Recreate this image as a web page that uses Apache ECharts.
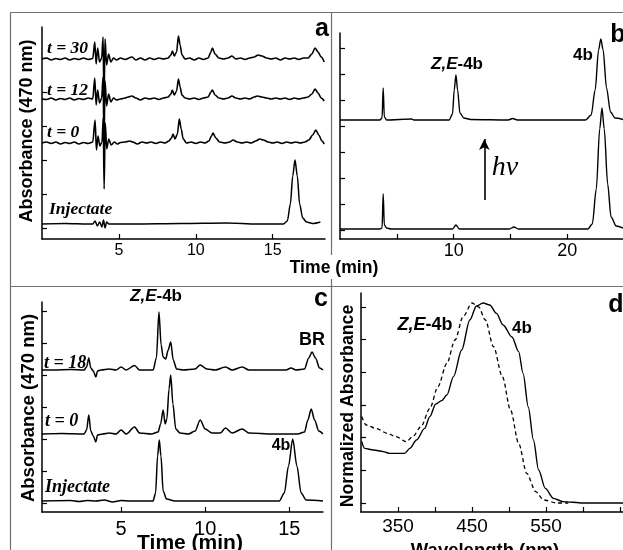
<!DOCTYPE html>
<html>
<head>
<meta charset="utf-8">
<script src="https://cdn.jsdelivr.net/npm/echarts@6/dist/echarts.min.js"></script>
<style>
html, body { margin: 0; padding: 0; background: #fff; }
#chart { width: 623px; height: 550px; }
</style>
</head>
<body>
<div id="chart"></div>
<script>
// ---- panel a : HPLC traces (time in min, absorbance in arbitrary units) ----
var traceA30 = [[0,0],[0.3,1],[0.6,-1],[0.9,0.5],[1.2,-0.5],[1.5,1],[1.8,-1],[2.1,0.5],[2.4,-0.5],[2.7,1],[3.0,-0.5],[3.3,0.5],[3.43,17],[3.52,-5],[3.62,11],[3.74,-3],[3.88,1],[3.97,22],[4.03,-42],[4.1,20],[4.2,-6],[4.33,5],[4.48,-3],[4.65,1],[4.85,-1],[5.1,1],[5.4,-0.5],[5.85,2],[6.1,-1],[6.4,1],[6.7,-1],[7.0,1],[7.3,-0.5],[7.6,1],[7.9,0],[8.2,1],[8.38,4],[8.48,8],[8.6,3],[8.75,7],[8.87,23],[8.98,14],[9.1,4],[9.3,0],[9.6,1],[9.9,-1],[10.2,1],[10.5,-0.5],[10.8,1],[10.98,7],[11.08,11],[11.25,5],[11.5,1],[11.8,0],[12.1,1],[12.35,3],[12.6,0],[12.9,1],[13.2,-0.5],[13.5,1],[13.8,2],[14.05,4],[14.3,3],[14.6,1],[14.9,0],[15.2,1],[15.5,-1],[15.8,1],[16.1,0],[16.4,1],[16.7,-0.5],[17.0,1],[17.3,1],[17.55,5],[17.75,11],[17.95,7],[18.15,2],[18.35,-3]];
var traceA12 = [[0,0],[0.3,-0.5],[0.6,1],[0.9,-1],[1.2,0.5],[1.5,-0.5],[1.8,1],[2.1,-1],[2.4,0.5],[2.7,-0.5],[3.0,1],[3.3,0],[3.43,21],[3.52,-6],[3.62,9],[3.74,-4],[3.88,1],[3.97,22],[4.03,-44],[4.1,18],[4.2,-7],[4.33,5],[4.48,-3],[4.65,1],[4.85,-1],[5.1,0],[5.4,1],[5.6,2],[5.85,3],[6.1,1],[6.4,-1],[6.7,1],[7.0,0],[7.3,1],[7.6,-0.5],[7.9,1],[8.2,2],[8.38,5],[8.47,9],[8.6,4],[8.75,8],[8.87,20],[8.98,12],[9.1,4],[9.3,1],[9.6,0],[9.9,1],[10.2,-0.5],[10.5,1],[10.8,2],[10.98,7],[11.08,9],[11.25,4],[11.5,1],[11.8,0],[12.1,1],[12.35,3],[12.6,1],[12.9,0],[13.2,1],[13.5,0],[13.8,2],[14.0,3],[14.3,2],[14.6,1],[14.9,0],[15.2,1],[15.5,0],[15.8,1],[16.1,-0.5],[16.4,1],[16.7,0],[17.0,1],[17.3,2],[17.55,5],[17.75,10],[17.95,6],[18.15,1],[18.35,-2]];
var traceA0 = [[0,0],[0.3,1],[0.6,-0.5],[0.9,1],[1.2,-1],[1.5,0.5],[1.8,-0.5],[2.1,1],[2.4,-1],[2.7,0.5],[3.0,-0.5],[3.3,1],[3.45,23],[3.54,-7],[3.64,7],[3.76,-3],[3.9,1],[3.98,25],[4.04,-46],[4.11,20],[4.21,-6],[4.34,4],[4.5,-2],[4.7,1],[4.9,-1],[5.1,0.5],[5.4,1],[5.7,2],[5.9,1],[6.2,-1],[6.5,1],[6.8,0],[7.1,1],[7.4,-0.5],[7.7,1],[8.0,0],[8.25,2],[8.42,5],[8.52,9],[8.65,4],[8.8,9],[8.93,24],[9.05,14],[9.18,4],[9.4,0],[9.7,1],[10.0,-0.5],[10.3,1],[10.6,0],[10.85,2],[11.02,7],[11.12,10],[11.3,5],[11.55,1],[11.9,0],[12.2,1],[12.42,3],[12.7,1],[13.0,0],[13.3,1],[13.6,0],[13.9,2],[14.15,4],[14.4,3],[14.7,1],[15.0,0],[15.3,1],[15.6,-0.5],[15.9,1],[16.2,0],[16.5,1],[16.8,0],[17.1,1],[17.35,3],[17.6,8],[17.8,13],[18.0,8],[18.2,2],[18.35,-1]];
var traceAInj = [[0,0],[1.5,0.5],[3.0,0],[3.3,0],[3.45,3],[3.6,-2],[3.75,2],[3.9,-3],[4.0,4],[4.1,-4],[4.2,2],[4.35,0],[6,0],[9,0.5],[12,1],[14,0],[15.7,0],[15.95,3],[16.15,20],[16.3,48],[16.45,64],[16.6,48],[16.75,20],[16.95,6],[17.2,2],[17.6,0.5],[18.1,2]];
var offsetsA = [180, 140, 96, 15];
var xTicksA = [5, 10, 15];
var yTicksA = [11, 45, 79, 113, 147, 181];

// ---- panel b : before / after irradiation ----
var traceBTop = [[0,0],[3.5,0],[3.7,2],[3.8,32],[3.9,3],[4.1,0],[6.3,1],[6.5,0],[9.6,0],[9.9,6],[10.05,30],[10.2,45],[10.35,30],[10.55,7],[10.9,2],[11.5,0.5],[14.8,0],[15.2,1.5],[15.6,0],[21.6,0],[22.1,5],[22.45,30],[22.75,70],[22.95,81],[23.15,70],[23.45,32],[23.8,8],[24.2,2],[24.9,0.5]];
var traceBBottom = [[0,0],[3.5,0],[3.7,1],[3.8,35],[3.9,4],[4.1,1],[4.5,0],[9.9,0],[10.2,4],[10.5,0],[14.9,0],[15.3,2],[15.7,0],[21.8,0],[22.2,5],[22.55,40],[22.85,100],[23.05,121],[23.25,100],[23.55,45],[23.85,12],[24.3,3],[24.9,1]];
var offsetsB = [119, 10];
var xTicksB = [5, 10, 15, 20];
var xLabelsB = [10, 20];
var yTicksB = [9, 35, 61, 87, 113, 139, 165, 191];

// ---- panel c ----
var traceC18 = [[0.3,0],[1,0],[2,0.5],[2.8,0],[2.95,3],[3.08,12],[3.2,2],[3.35,-1],[3.5,-7],[3.6,-1],[3.8,0],[4.3,1],[4.7,0],[5.0,3],[5.3,0],[5.8,4.5],[6.1,0],[6.9,0],[7.1,12],[7.25,58],[7.38,25],[7.5,13],[7.65,11],[7.8,20],[7.95,28],[8.1,10],[8.3,1],[8.7,0],[9.4,1],[9.7,5],[10.1,1],[10.6,0],[11.2,3],[11.6,0],[12.2,3],[12.6,0],[14.8,0],[15.1,2],[15.4,0],[15.9,1],[16.15,12],[16.35,18],[16.55,12],[16.8,2],[17,0]];
var traceC0 = [[0.3,0],[1.5,0.5],[2.8,0],[2.95,4],[3.08,19],[3.2,3],[3.35,-2],[3.5,-8],[3.6,-1],[3.9,0],[4.3,1],[4.7,0],[5.0,4],[5.3,0],[5.8,7],[6.1,1],[6.8,0],[7.2,2],[7.35,10],[7.5,24],[7.62,10],[7.72,15],[7.85,45],[7.95,59],[8.08,30],[8.25,5],[8.5,1],[9.0,0],[9.4,3],[9.7,14],[10.0,5],[10.4,1],[10.9,1],[11.2,6],[11.6,1],[12.2,5],[12.6,1],[14,0],[15.5,0],[15.9,2],[16.1,14],[16.3,25],[16.5,14],[16.75,3],[17,0]];
var traceCInj = [[0.3,0],[2,0.5],[2.5,-0.5],[3,0.5],[3.5,0],[4,1],[4.5,-1],[5,0.5],[5.5,0],[6.9,0],[7.05,8],[7.17,45],[7.27,61],[7.37,45],[7.5,10],[7.7,2],[8.2,0],[14.4,0],[14.7,8],[14.95,35],[15.2,62],[15.45,35],[15.7,8],[16,1],[17,0]];
var offsetsC = [142, 78, 11];
var xTicksC = [5, 10, 15];
var yTicksC = [9, 41, 73, 105, 137, 169, 201];

// ---- panel d : normalized absorption spectra ----
var spec4b = [[301,0.307],[305,0.273],[317,0.265],[330,0.257],[339,0.248],[359,0.248],[366,0.273],[375,0.315],[386,0.373],[393,0.432],[401,0.495],[409,0.512],[416,0.54],[425,0.632],[436,0.765],[447,0.915],[456,0.985],[465,1.0],[474,0.99],[483,0.948],[492,0.89],[504,0.83],[513,0.757],[519,0.648],[526,0.48],[533,0.315],[540,0.165],[549,0.073],[560,0.023],[573,0.007],[600,0],[655,0]];
var specZE = [[301,0.432],[307,0.39],[320,0.373],[336,0.348],[347,0.332],[361,0.307],[370,0.332],[381,0.382],[393,0.473],[404,0.582],[416,0.698],[427,0.815],[438,0.932],[450,1.0],[459,0.98],[468,0.915],[479,0.782],[491,0.632],[502,0.465],[513,0.298],[524,0.148],[536,0.057],[547,0.015],[565,0],[580,0]];
var xTicksD = [350, 400, 450, 500, 550, 600, 650];
var xLabelsD = [350, 450, 550];
var yTicksD = [0, 0.165, 0.33, 0.49, 0.655, 0.82, 0.98];

var chart = echarts.init(document.getElementById('chart'));
var SANS = '"Liberation Sans", Arial, sans-serif';
var SERIF = '"Liberation Serif", "Times New Roman", serif';
var border = '#707070';

function shift(trace, off) {
    return trace.map(function (p) { return [p[0], p[1] + off]; });
}

function xAxis(idx, min, max, ticks, labels, size, margin) {
    return {
        gridIndex: idx, type: 'value', min: min, max: max,
        axisLine: { onZero: false, lineStyle: { color: '#000', width: 1.5 } },
        axisTick: { inside: true, length: 5, customValues: ticks, lineStyle: { color: '#000', width: 1.2 } },
        axisLabel: { customValues: labels, color: '#000', fontFamily: SANS, fontSize: size, margin: margin },
        splitLine: { show: false }
    };
}

function yAxis(idx, min, max, ticks) {
    return {
        gridIndex: idx, type: 'value', min: min, max: max,
        axisLine: { onZero: false, lineStyle: { color: '#000', width: 1.5 } },
        axisTick: { inside: true, length: 5, customValues: ticks, lineStyle: { color: '#000', width: 1.2 } },
        axisLabel: { show: false },
        splitLine: { show: false }
    };
}

function line(xi, data, width, extra) {
    var s = {
        type: 'line', xAxisIndex: xi, yAxisIndex: xi, data: data,
        showSymbol: false, symbol: 'none', smooth: 0.3, smoothMonotone: 'x',
        lineStyle: { color: '#000', width: width }, silent: true
    };
    for (var k in extra) s[k] = extra[k];
    return s;
}

function txt(x, y, text, font, align, rot) {
    return {
        type: 'text', x: x, y: y, rotation: rot || 0, silent: true,
        style: { text: text, font: font, fill: '#000', textAlign: align || 'center', align: align || 'center', textVerticalAlign: 'middle', verticalAlign: 'middle' }
    };
}

function peakLabel(x, y, size) {
    var f = { fontWeight: 'bold', fontSize: size, fontFamily: SANS, color: '#000' };
    return {
        type: 'text', x: x, y: y, silent: true,
        style: {
            text: '{i|Z,E}{n|-4b}', fill: '#000',
            textAlign: 'center', align: 'center', textVerticalAlign: 'middle', verticalAlign: 'middle',
            rich: { i: Object.assign({ fontStyle: 'italic' }, f), n: f }
        }
    };
}

function hline(x1, y, x2) {
    return { type: 'line', silent: true, shape: { x1: x1, y1: y, x2: x2, y2: y }, style: { stroke: border, lineWidth: 1.2 } };
}
function vline(x, y1, y2) {
    return { type: 'line', silent: true, shape: { x1: x, y1: y1, x2: x, y2: y2 }, style: { stroke: border, lineWidth: 1.2 } };
}

var option = {
    animation: false,
    backgroundColor: '#fff',
    grid: [
        { left: 42, top: 27, width: 283, height: 212, containLabel: false, outerBoundsMode: 'none' },
        { left: 340, top: 33, width: 283, height: 206, containLabel: false, outerBoundsMode: 'none' },
        { left: 42, top: 302, width: 281, height: 210, containLabel: false, outerBoundsMode: 'none' },
        { left: 361, top: 293, width: 262, height: 219, containLabel: false, outerBoundsMode: 'none' }
    ],
    xAxis: [
        xAxis(0, 0, 18.4, xTicksA, xTicksA, 16, 4),
        xAxis(1, 0, 24.9, xTicksB, xLabelsB, 18, 3),
        xAxis(2, 0.3, 17, xTicksC, xTicksC, 20, 7),
        xAxis(3, 300, 654, xTicksD, xLabelsD, 19, 5)
    ],
    yAxis: [
        yAxis(0, 0, 212, yTicksA),
        yAxis(1, 0, 206, yTicksB),
        yAxis(2, 0, 210, yTicksC),
        yAxis(3, -0.045, 1.05, yTicksD)
    ],
    series: [
        line(0, shift(traceA30, offsetsA[0]), 1.6),
        line(0, shift(traceA12, offsetsA[1]), 1.6),
        line(0, shift(traceA0, offsetsA[2]), 1.6),
        line(0, shift(traceAInj, offsetsA[3]), 1.5),
        line(1, shift(traceBTop, offsetsB[0]), 1.4, {
            markLine: {
                silent: true, symbol: ['none', 'arrow'], symbolSize: [8, 11],
                label: { show: false },
                lineStyle: { color: '#000', width: 1.6, type: 'solid' },
                data: [[{ coord: [12.7, 39] }, { coord: [12.7, 100] }]]
            }
        }),
        line(1, shift(traceBBottom, offsetsB[1]), 1.4),
        line(2, shift(traceC18, offsetsC[0]), 1.5),
        line(2, shift(traceC0, offsetsC[1]), 1.5),
        line(2, shift(traceCInj, offsetsC[2]), 1.5),
        line(3, spec4b, 1.4),
        line(3, specZE, 1.3, { lineStyle: { color: '#000', width: 1.3, type: [4, 3] } })
    ],
    graphic: [
        // panel frames
        hline(10.5, 12.5, 623),
        vline(10.5, 12.5, 550),
        vline(331.5, 12.5, 255),
        vline(331.5, 279, 550),
        hline(10.5, 286.5, 623),

        // panel letters
        txt(322, 29, 'a', 'bold 25px ' + SANS),
        txt(618, 35, 'b', 'bold 25px ' + SANS),
        txt(321, 299, 'c', 'bold 25px ' + SANS),
        txt(616, 305, 'd', 'bold 25px ' + SANS),

        // axis titles
        txt(27, 131, 'Absorbance (470 nm)', 'bold 18px ' + SANS, 'center', Math.PI / 2),
        txt(29, 408, 'Absorbance (470 nm)', 'bold 18.5px ' + SANS, 'center', Math.PI / 2),
        txt(348, 406, 'Normalized Absorbance', 'bold 17.7px ' + SANS, 'center', Math.PI / 2),
        txt(334, 268, 'Time (min)', 'bold 17.6px ' + SANS),
        txt(190, 543, 'Time (min)', 'bold 21px ' + SANS),
        txt(485, 551, 'Wavelength (nm)', 'bold 18.5px ' + SANS),

        // trace labels
        txt(47, 48, 't = 30', 'italic bold 17.5px ' + SERIF, 'left'),
        txt(47, 90, 't = 12', 'italic bold 17.5px ' + SERIF, 'left'),
        txt(47, 132, 't = 0', 'italic bold 17.5px ' + SERIF, 'left'),
        txt(49, 209, 'Injectate', 'italic bold 17.5px ' + SERIF, 'left'),
        txt(44, 363, 't = 18', 'italic bold 18px ' + SERIF, 'left'),
        txt(45, 421, 't = 0', 'italic bold 18px ' + SERIF, 'left'),
        txt(45, 487, 'Injectate', 'italic bold 18px ' + SERIF, 'left'),

        // peak labels
        peakLabel(457, 64, 17),
        txt(583, 55, '4b', 'bold 17px ' + SANS),
        txt(505, 168, 'h\u03BD', 'italic 28px ' + SERIF),
        peakLabel(156, 296, 17),
        txt(312, 340, 'BR', 'bold 18px ' + SANS),
        txt(281, 446, '4b', 'bold 16px ' + SANS),
        peakLabel(425, 325, 18),
        txt(522, 328, '4b', 'bold 17px ' + SANS)
    ]
};

chart.setOption(option);
</script>
</body>
</html>
